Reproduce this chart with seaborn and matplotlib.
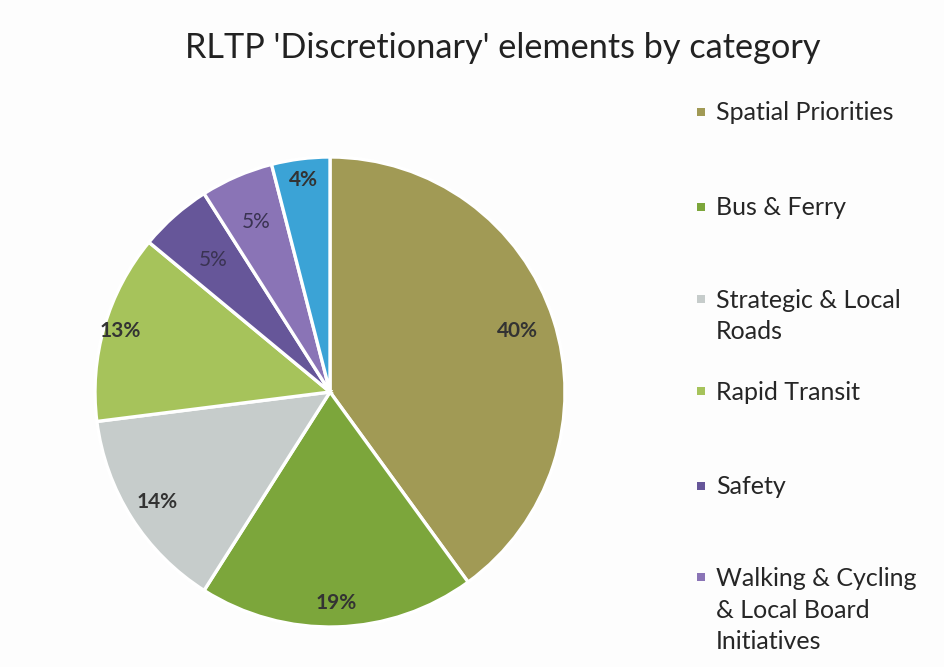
import matplotlib
matplotlib.use("Agg")
import matplotlib.pyplot as plt
from matplotlib.patches import Rectangle
import numpy as np
import seaborn as sns

sns.set_theme(style="white")
plt.rcParams["font.family"] = ["Lato", "DejaVu Sans"]

# Data
categories = [
    "Spatial Priorities",
    "Bus & Ferry",
    "Strategic & Local\nRoads",
    "Rapid Transit",
    "Safety",
    "Walking & Cycling\n& Local Board\nInitiatives",
    "Other",
]
shares = [40, 19, 14, 13, 5, 5, 4]
colors = ["#A19A55", "#7CA63B", "#C6CCCB", "#A6C35B", "#665699", "#8A74B6", "#3BA3D6"]
title = "RLTP 'Discretionary' elements by category"

# Layout
label_radius = [0.84, 0.90, 0.87, 0.93, 0.75, 0.79, 0.91]
label_bold = [True, True, True, True, False, False, True]
legend_rows_px = [113, 208, 316, 392, 487, 610]
line_px = 32

W, H = 945, 667
fig = plt.figure(figsize=(W / 100, H / 100), dpi=100)
fig.patch.set_facecolor("#FDFDFD")

cx, cy, r = 330, 392, 235
ax = fig.add_axes([(cx - r) / W, (H - cy - r) / H, 2 * r / W, 2 * r / H])
ax.set_facecolor("none")

wedges, _ = ax.pie(
    shares,
    colors=colors,
    startangle=90,
    counterclock=False,
    radius=1,
    wedgeprops=dict(edgecolor="white", linewidth=2.4),
)
ax.set_xlim(-1, 1)
ax.set_ylim(-1, 1)
ax.set_aspect("equal")
ax.axis("off")

for w, val, rad, bold in zip(wedges, shares, label_radius, label_bold):
    mid = np.deg2rad((w.theta1 + w.theta2) / 2)
    ax.text(
        rad * np.cos(mid), rad * np.sin(mid), f"{val}%",
        ha="center", va="center", fontsize=15,
        fontweight="bold" if bold else "normal",
        color="#333333" if bold else "#3a3352",
    )

fig.text(503 / W, 1 - 48 / H, title, ha="center", va="center",
         fontsize=24.7, color="#222222")

# Legend
for name, col, ypx in zip(categories, colors, legend_rows_px):
    nlines = name.count("\n") + 1
    top = ypx - (nlines - 1) * line_px / 2
    fig.patches.append(Rectangle(((701 - 4) / W, 1 - (top + 3) / H), 8 / W, 8 / H,
                                 transform=fig.transFigure, facecolor=col,
                                 edgecolor="none"))
    fig.text(716 / W, 1 - ypx / H, name, ha="left", va="center",
             fontsize=18, color="#262626", linespacing=1.45)

fig.savefig("out.png", dpi=100, facecolor=fig.get_facecolor())
